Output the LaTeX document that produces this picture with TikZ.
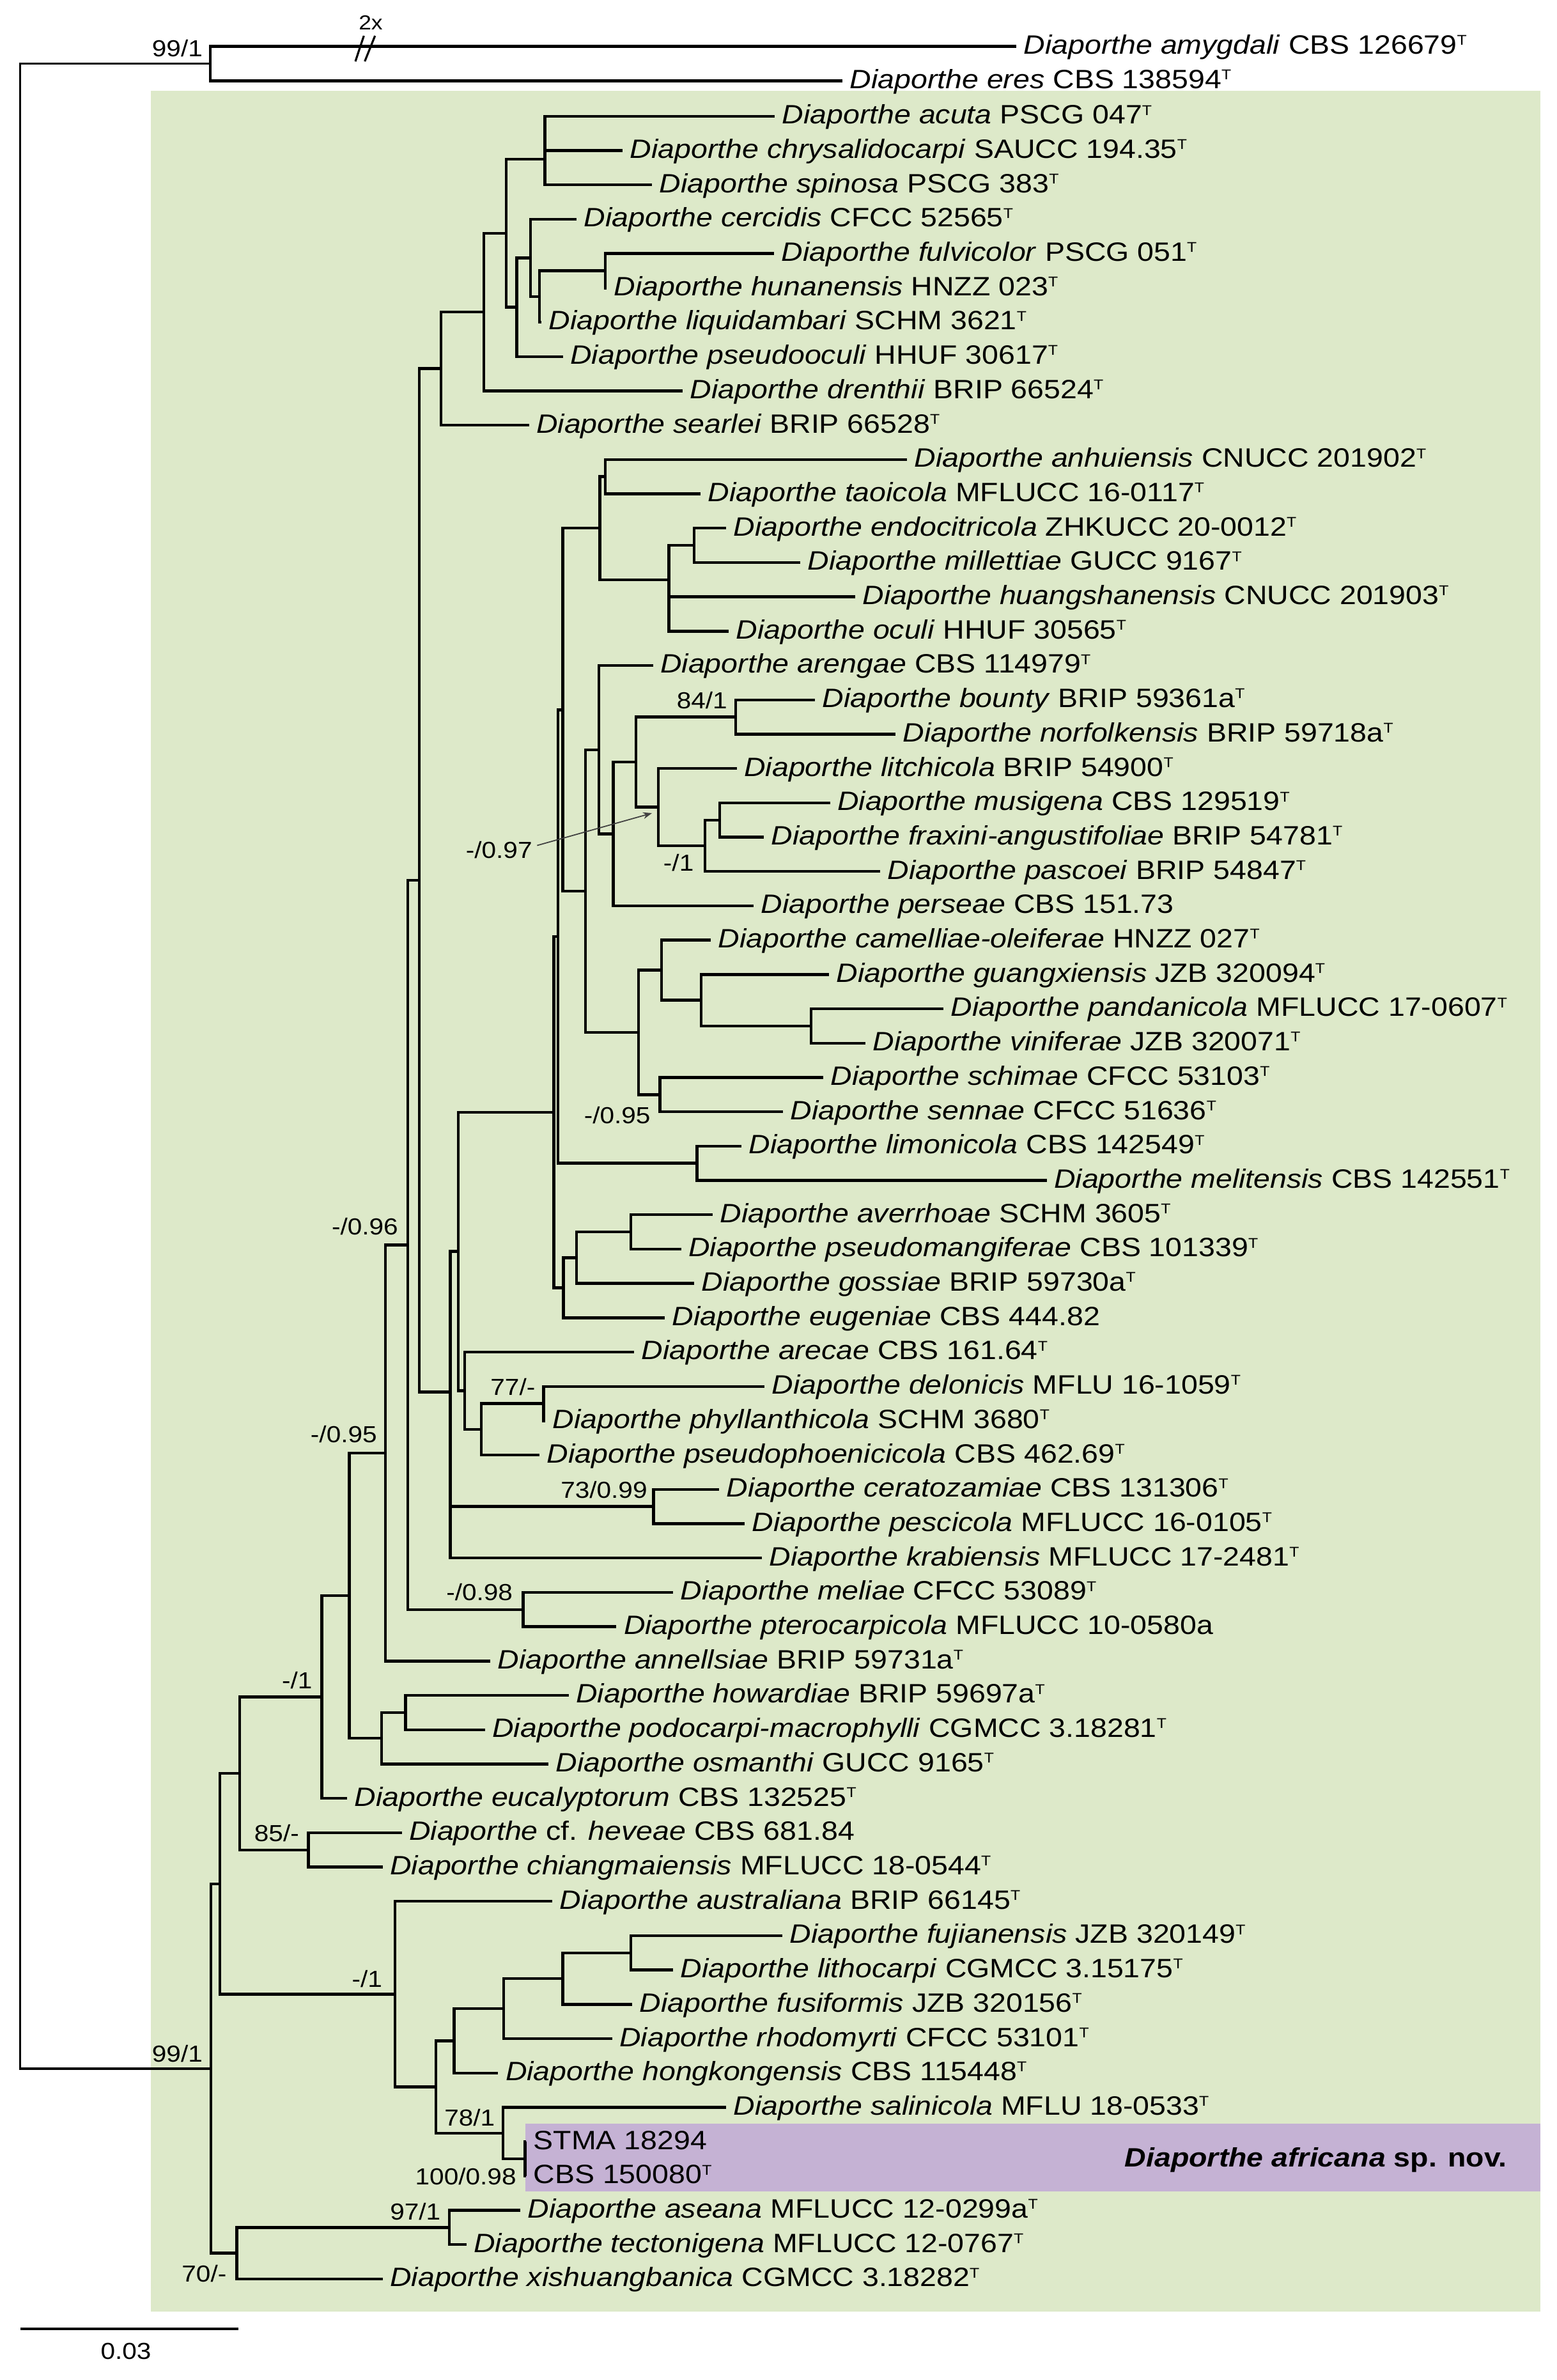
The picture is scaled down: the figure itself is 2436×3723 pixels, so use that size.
\documentclass[tikz,border=0pt]{standalone}
\usepackage{fontspec}
\setmainfont{Liberation Sans}[FakeStretch=1.12]
\usepackage{xcolor}
\usepackage{tikz}
\usetikzlibrary{arrows.meta, positioning}

\definecolor{ingroupgreen}{RGB}{221,233,201}
\definecolor{novelpurple}{RGB}{197,178,212}

\newcommand{\extype}{\raisebox{3.9pt}{\fontsize{6.3pt}{6.3pt}\selectfont T}}
\newcommand{\dia}[1]{\textit{Diaporthe #1}}
\newcommand{\rowy}[1]{181.8+53.7*#1}

\tikzset{
  phylo/branch/.style={line width=1.25pt, line join=miter},
  phylo/taxon/.style={anchor=west, inner xsep=0.11cm, inner ysep=0pt,
    text height=8.5pt, text depth=1.7pt,
    font=\fontsize{11.8pt}{14pt}\selectfont},
  phylo/support/.style={anchor=base east, inner sep=0pt,
    font=\fontsize{10.3pt}{12pt}\selectfont},
}

\begin{document}
\begin{tikzpicture}[x=0.01cm, y=-0.01cm,
  branch/.style={phylo/branch},
  taxon/.style={phylo/taxon},
  support/.style={phylo/support},
  pointer/.style={-{Stealth[length=4pt, width=3pt]}, line width=0.5pt, black!75},
  breakmark/.style={line width=0.9pt},
]

% ── Canvas and clade shading ─────────────────────────────
\useasboundingbox (0,0) rectangle (2436,3723);
\fill[ingroupgreen] (236,142) rectangle (2410,3616);
\fill[novelpurple] (821.5,3322) rectangle (2410,3428);

% ── Outgroup ─────────────────────────────────────────────
\coordinate (root) at (31.5,1667.5);
\coordinate (og) at (329,99.4);
\node[taxon] (amygdali) at (1590,72.5) {\dia{amygdali} CBS 126679\extype};
\node[taxon] (eres) at (1318,126.3) {\dia{eres} CBS 138594\extype};
\draw[branch] (og) |- (amygdali.west) (og) |- (eres.west);
\draw[branch, line width=1pt] (root) |- (og);
\node[support] (s99a) at (317.6,88.7) {99/1};
% shortened branch
\draw[breakmark] (556,96) -- (569.3,56) (570.7,96) -- (586.7,56);
\node[anchor=base, inner sep=0pt, font=\fontsize{9pt}{10pt}\selectfont]
  (twox) at (580,46.7) {2x};

% ── Taxa ─────────────────────────────────────────────────
\node[taxon] (acuta)     at (1212,{\rowy{0}})  {\dia{acuta} PSCG 047\extype};
\node[taxon] (chrysal)   at (974,{\rowy{1}})   {\dia{chrysalidocarpi} SAUCC 194.35\extype};
\node[taxon] (spinosa)   at (1020,{\rowy{2}})  {\dia{spinosa} PSCG 383\extype};
\node[taxon] (cercidis)  at (902,{\rowy{3}})   {\dia{cercidis} CFCC 52565\extype};
\node[taxon] (fulvic)    at (1211,{\rowy{4}})  {\dia{fulvicolor} PSCG 051\extype};
\node[taxon] (hunan)     at (949,{\rowy{5}})   {\dia{hunanensis} HNZZ 023\extype};
\node[taxon] (liquid)    at (847,{\rowy{6}})   {\dia{liquidambari} SCHM 3621\extype};
\node[taxon] (pseudooc)  at (880.6,{\rowy{7}}) {\dia{pseudooculi} HHUF 30617\extype};
\node[taxon] (drenthii)  at (1068,{\rowy{8}})  {\dia{drenthii} BRIP 66524\extype};
\node[taxon] (searlei)   at (827.5,{\rowy{9}}) {\dia{searlei} BRIP 66528\extype};
\node[taxon] (anhui)     at (1419,{\rowy{10}}) {\dia{anhuiensis} CNUCC 201902\extype};
\node[taxon] (taoic)     at (1096,{\rowy{11}}) {\dia{taoicola} MFLUCC 16-0117\extype};
\node[taxon] (endocit)   at (1136,{\rowy{12}}) {\dia{endocitricola} ZHKUCC 20-0012\extype};
\node[taxon] (millett)   at (1252,{\rowy{13}}) {\dia{millettiae} GUCC 9167\extype};
\node[taxon] (huangsh)   at (1338,{\rowy{14}}) {\dia{huangshanensis} CNUCC 201903\extype};
\node[taxon] (oculi)     at (1140,{\rowy{15}}) {\dia{oculi} HHUF 30565\extype};
\node[taxon] (arengae)   at (1021.5,{\rowy{16}}) {\dia{arengae} CBS 114979\extype};
\node[taxon] (bounty)    at (1275,{\rowy{17}}) {\dia{bounty} BRIP 59361a\extype};
\node[taxon] (norfolk)   at (1401,{\rowy{18}}) {\dia{norfolkensis} BRIP 59718a\extype};
\node[taxon] (litchi)    at (1152.6,{\rowy{19}}) {\dia{litchicola} BRIP 54900\extype};
\node[taxon] (musig)     at (1298.5,{\rowy{20}}) {\dia{musigena} CBS 129519\extype};
\node[taxon] (fraxini)   at (1195,{\rowy{21}}) {\dia{fraxini-angustifoliae} BRIP 54781\extype};
\node[taxon] (pascoei)   at (1377,{\rowy{22}}) {\dia{pascoei} BRIP 54847\extype};
\node[taxon] (perseae)   at (1179,{\rowy{23}}) {\dia{perseae} CBS 151.73};
\node[taxon] (camell)    at (1112,{\rowy{24}}) {\dia{camelliae-oleiferae} HNZZ 027\extype};
\node[taxon] (guangx)    at (1297,{\rowy{25}}) {\dia{guangxiensis} JZB 320094\extype};
\node[taxon] (pandan)    at (1476,{\rowy{26}}) {\dia{pandanicola} MFLUCC 17-0607\extype};
\node[taxon] (vinif)     at (1354,{\rowy{27}}) {\dia{viniferae} JZB 320071\extype};
\node[taxon] (schimae)   at (1288,{\rowy{28}}) {\dia{schimae} CFCC 53103\extype};
\node[taxon] (sennae)    at (1225,{\rowy{29}}) {\dia{sennae} CFCC 51636\extype};
\node[taxon] (limonic)   at (1160,{\rowy{30}}) {\dia{limonicola} CBS 142549\extype};
\node[taxon] (melit)     at (1637.5,{\rowy{31}}) {\dia{melitensis} CBS 142551\extype};
\node[taxon] (averrh)    at (1115,{\rowy{32}}) {\dia{averrhoae} SCHM 3605\extype};
\node[taxon] (pseudoman) at (1065.5,{\rowy{33}}) {\dia{pseudomangiferae} CBS 101339\extype};
\node[taxon] (gossiae)   at (1086,{\rowy{34}}) {\dia{gossiae} BRIP 59730a\extype};
\node[taxon] (eugeniae)  at (1040,{\rowy{35}}) {\dia{eugeniae} CBS 444.82};
\node[taxon] (arecae)    at (992,{\rowy{36}})  {\dia{arecae} CBS 161.64\extype};
\node[taxon] (delon)     at (1196,{\rowy{37}}) {\dia{delonicis} MFLU 16-1059\extype};
\node[taxon] (phyllan)   at (853,{\rowy{38}})  {\dia{phyllanthicola} SCHM 3680\extype};
\node[taxon] (pseudoph)  at (844,{\rowy{39}})  {\dia{pseudophoenicicola} CBS 462.69\extype};
\node[taxon] (cerato)    at (1125,{\rowy{40}}) {\dia{ceratozamiae} CBS 131306\extype};
\node[taxon] (pescic)    at (1165,{\rowy{41}}) {\dia{pescicola} MFLUCC 16-0105\extype};
\node[taxon] (krabi)     at (1192,{\rowy{42}}) {\dia{krabiensis} MFLUCC 17-2481\extype};
\node[taxon] (meliae)    at (1053,{\rowy{43}}) {\dia{meliae} CFCC 53089\extype};
\node[taxon] (pterocarp) at (964.3,{\rowy{44}}) {\dia{pterocarpicola} MFLUCC 10-0580a};
\node[taxon] (annells)   at (767,{\rowy{45}})  {\dia{annellsiae} BRIP 59731a\extype};
\node[taxon] (howard)    at (889.7,{\rowy{46}}) {\dia{howardiae} BRIP 59697a\extype};
\node[taxon] (podocarp)  at (758.7,{\rowy{47}}) {\dia{podocarpi-macrophylli} CGMCC 3.18281\extype};
\node[taxon] (osmanthi)  at (858,{\rowy{48}})  {\dia{osmanthi} GUCC 9165\extype};
\node[taxon] (eucaly)    at (543,{\rowy{49}})  {\dia{eucalyptorum} CBS 132525\extype};
\node[taxon] (heveae)    at (628.5,{\rowy{50}}) {\textit{Diaporthe} cf. \textit{heveae} CBS 681.84};
\node[taxon] (chiangm)   at (598.7,{\rowy{51}}) {\dia{chiangmaiensis} MFLUCC 18-0544\extype};
\node[taxon] (austral)   at (864,{\rowy{52}})  {\dia{australiana} BRIP 66145\extype};
\node[taxon] (fujian)    at (1224,{\rowy{53}}) {\dia{fujianensis} JZB 320149\extype};
\node[taxon] (lithoc)    at (1053,{\rowy{54}}) {\dia{lithocarpi} CGMCC 3.15175\extype};
\node[taxon] (fusif)     at (989.2,{\rowy{55}}) {\dia{fusiformis} JZB 320156\extype};
\node[taxon] (rhodom)    at (957.7,{\rowy{56}}) {\dia{rhodomyrti} CFCC 53101\extype};
\node[taxon] (hongk)     at (779.4,{\rowy{57}}) {\dia{hongkongensis} CBS 115448\extype};
\node[taxon] (salinic)   at (1136,{\rowy{58}}) {\dia{salinicola} MFLU 18-0533\extype};
\node[taxon] (stma)      at (823,{\rowy{59}})  {STMA 18294};
\node[taxon] (cbs)       at (823,{\rowy{60}})  {CBS 150080\extype};
\node[taxon] (aseana)    at (814,{\rowy{61}})  {\dia{aseana} MFLUCC 12-0299a\extype};
\node[taxon] (tecton)    at (729.7,{\rowy{62}}) {\dia{tectonigena} MFLUCC 12-0767\extype};
\node[taxon] (xishuang)  at (598.7,{\rowy{63}}) {\dia{xishuangbanica} CGMCC 3.18282\extype};

\node[anchor=base east, inner sep=0pt, font=\fontsize{11.8pt}{14pt}\selectfont\bfseries]
  (africana) at (2358,3389.3) {\textit{Diaporthe africana} sp. nov.};

% ── Internal nodes ───────────────────────────────────────
% acuta to searlei
\coordinate (a1) at (852.4,249);
\coordinate (a6) at (947,423.5);
\coordinate (a5) at (844,463.7);
\coordinate (a4) at (830,403.3);
\coordinate (a3) at (808.5,480.5);
\coordinate (a2) at (792,364.7);
\coordinate (a7) at (757,488);
\coordinate (a8) at (690,576.6);
% anhuiensis to oculi
\coordinate (j1) at (947,745.6);
\coordinate (j3) at (1086,853);
\coordinate (j2) at (1046.4,906.7);
\coordinate (j0) at (938.6,826.2);
\coordinate (k0) at (880.6,1110.3);
% arengae to perseae
\coordinate (m3) at (1151,1121.5);
\coordinate (m6) at (1126,1282.7);
\coordinate (m5) at (1102.8,1323);
\coordinate (m4) at (1030,1262.5);
\coordinate (m2) at (995,1192);
\coordinate (m1) at (959.4,1304.5);
\coordinate (m0) at (937,1172.7);
\coordinate (k1) at (916.2,1393.9);
% camelliae-oleiferae to sennae
\coordinate (n3) at (1268.7,1604.9);
\coordinate (n2) at (1097,1564.6);
\coordinate (n1) at (1035,1517.6);
\coordinate (n5) at (1032.3,1712.3);
\coordinate (n0) at (999,1615);
\coordinate (n6) at (1090.4,1819.6);
\coordinate (L1) at (873,1465);
% averrhoae to eugeniae
\coordinate (o2) at (986.7,1927);
\coordinate (o1) at (902,1967.3);
\coordinate (o0) at (881.4,2014.3);
\coordinate (L0) at (866.5,1739.7);
% arecae to krabiensis
\coordinate (s2) at (850.5,2195.5);
\coordinate (s1) at (753,2235.8);
\coordinate (s0) at (727,2175.4);
\coordinate (p0) at (717,1957.6);
\coordinate (t0) at (1022.4,2356.6);
\coordinate (r0) at (704.5,2177.5);
\coordinate (b0) at (656,1376.9);
% meliae down to the base
\coordinate (c1) at (818.4,2517.8);
\coordinate (c0) at (638,1947.4);
\coordinate (d0) at (603,2272.8);
\coordinate (e2) at (634.3,2678.9);
\coordinate (e1) at (597,2719.1);
\coordinate (e0) at (546.4,2496);
\coordinate (f0) at (503.3,2654.6);
\coordinate (g1) at (482.6,2893.7);
\coordinate (g0) at (374.8,2774.1);
\coordinate (h6) at (986.7,3054.8);
\coordinate (h5) at (880.6,3095);
\coordinate (h4) at (787.7,3142);
\coordinate (h3) at (710.6,3192.4);
\coordinate (h8) at (821.3,3377);
\coordinate (h7) at (787,3336.7);
\coordinate (h2) at (682,3264.5);
\coordinate (h1) at (617.7,3119.4);
\coordinate (h0) at (344,2946.7);
\coordinate (i2) at (703,3484.4);
\coordinate (i1) at (370.6,3524.6);
\coordinate (i0) at (330,3235.7);

% ── Branches ─────────────────────────────────────────────
\draw[branch] (a1) |- (acuta.west) (a1) |- (chrysal.west) (a1) |- (spinosa.west);
\draw[branch] (a6) |- (fulvic.west) (a6) |- (hunan.west);
\draw[branch] (a5) |- (a6) (a5) |- (liquid.west);
\draw[branch] (a4) |- (cercidis.west) (a4) |- (a5);
\draw[branch] (a3) |- (a4) (a3) |- (pseudooc.west);
\draw[branch] (a2) |- (a1) (a2) |- (a3);
\draw[branch] (a7) |- (a2) (a7) |- (drenthii.west);
\draw[branch] (a8) |- (a7) (a8) |- (searlei.west);

\draw[branch] (j1) |- (anhui.west) (j1) |- (taoic.west);
\draw[branch] (j3) |- (endocit.west) (j3) |- (millett.west);
\draw[branch] (j2) |- (j3) (j2) |- (huangsh.west) (j2) |- (oculi.west);
\draw[branch] (j0) |- (j1) (j0) |- (j2);
\draw[branch] (k0) |- (j0) (k0) |- (k1);

\draw[branch] (m3) |- (bounty.west) (m3) |- (norfolk.west);
\draw[branch] (m6) |- (musig.west) (m6) |- (fraxini.west);
\draw[branch] (m5) |- (m6) (m5) |- (pascoei.west);
\draw[branch] (m4) |- (litchi.west) (m4) |- (m5);
\draw[branch] (m2) |- (m3) (m2) |- (m4);
\draw[branch] (m1) |- (m2) (m1) |- (perseae.west);
\draw[branch] (m0) |- (arengae.west) (m0) |- (m1);
\draw[branch] (k1) |- (m0) (k1) |- (n0);

\draw[branch] (n3) |- (pandan.west) (n3) |- (vinif.west);
\draw[branch] (n2) |- (guangx.west) (n2) |- (n3);
\draw[branch] (n1) |- (camell.west) (n1) |- (n2);
\draw[branch] (n5) |- (schimae.west) (n5) |- (sennae.west);
\draw[branch] (n0) |- (n1) (n0) |- (n5);
\draw[branch] (n6) |- (limonic.west) (n6) |- (melit.west);
\draw[branch] (L1) |- (k0) (L1) |- (n6);

\draw[branch] (o2) |- (averrh.west) (o2) |- (pseudoman.west);
\draw[branch] (o1) |- (o2) (o1) |- (gossiae.west);
\draw[branch] (o0) |- (o1) (o0) |- (eugeniae.west);
\draw[branch] (L0) |- (L1) (L0) |- (o0);

\draw[branch] (s2) |- (delon.west) (s2) |- (phyllan.west);
\draw[branch] (s1) |- (s2) (s1) |- (pseudoph.west);
\draw[branch] (s0) |- (arecae.west) (s0) |- (s1);
\draw[branch] (p0) |- (L0) (p0) |- (s0);
\draw[branch] (t0) |- (cerato.west) (t0) |- (pescic.west);
\draw[branch] (r0) |- (p0) (r0) |- (t0) (r0) |- (krabi.west);
\draw[branch] (b0) |- (a8) (b0) |- (r0);

\draw[branch] (c1) |- (meliae.west) (c1) |- (pterocarp.west);
\draw[branch] (c0) |- (b0) (c0) |- (c1);
\draw[branch] (d0) |- (c0) (d0) |- (annells.west);
\draw[branch] (e2) |- (howard.west) (e2) |- (podocarp.west);
\draw[branch] (e1) |- (e2) (e1) |- (osmanthi.west);
\draw[branch] (e0) |- (d0) (e0) |- (e1);
\draw[branch] (f0) |- (e0) (f0) |- (eucaly.west);
\draw[branch] (g1) |- (heveae.west) (g1) |- (chiangm.west);
\draw[branch] (g0) |- (f0) (g0) |- (g1);

\draw[branch] (h6) |- (fujian.west) (h6) |- (lithoc.west);
\draw[branch] (h5) |- (h6) (h5) |- (fusif.west);
\draw[branch] (h4) |- (h5) (h4) |- (rhodom.west);
\draw[branch] (h3) |- (h4) (h3) |- (hongk.west);
\draw[branch] (h8) |- (stma.west) (h8) |- (cbs.west);
\draw[branch] (h7) |- (salinic.west) (h7) |- (h8);
\draw[branch] (h2) |- (h3) (h2) |- (h7);
\draw[branch] (h1) |- (austral.west) (h1) |- (h2);
\draw[branch] (h0) |- (g0) (h0) |- (h1);

\draw[branch] (i2) |- (aseana.west) (i2) |- (tecton.west);
\draw[branch] (i1) |- (i2) (i1) |- (xishuang.west);
\draw[branch] (i0) |- (h0) (i0) |- (i1);
\draw[branch, line width=1pt] (root) |- (i0);

% ── Support values ───────────────────────────────────────
\node[support] (s84)   at (1138.5,1108.4) {84/1};
\node[support] (s097)  at (833.3,1342.5)  {-/0.97};
\node[support] (s1m)   at (1086,1362.9)   {-/1};
\node[support] (s095n) at (1018.2,1757.3) {-/0.95};
\node[support] (s096)  at (623.5,1931.8)  {-/0.96};
\node[support] (s77)   at (838,2182)      {77/-};
\node[support] (s095d) at (590.4,2256.4)  {-/0.95};
\node[support] (s73)   at (1013.3,2343.3) {73/0.99};
\node[support] (s098)  at (802.7,2503.6)  {-/0.98};
\node[support] (s1f)   at (489.2,2641.7)  {-/1};
\node[support] (s85)   at (468.5,2880.2)  {85/-};
\node[support] (s1h)   at (598.7,3108.4)  {-/1};
\node[support] (s99b)  at (317.6,3225.2)  {99/1};
\node[support] (s78)   at (775,3325)      {78/1};
\node[support] (s100)  at (808.3,3417)    {100/0.98};
\node[support] (s97)   at (690,3472)      {97/1};
\node[support] (s70)   at (355,3569.2)    {70/-};

% pointer to the collapsed node
\coordinate (m4tip) at (1020,1272);
\draw[pointer] ([xshift=2pt, yshift=2pt]s097.east) -- (m4tip);

% ── Scale bar ────────────────────────────────────────────
\coordinate (sbL) at (31.5,3642.7);
\coordinate (sbR) at (373,3642.7);
\draw[branch] (sbL) -- (sbR);
\node[support, anchor=base] (sblab) at (197,3690) {0.03};

\end{tikzpicture}
\end{document}
